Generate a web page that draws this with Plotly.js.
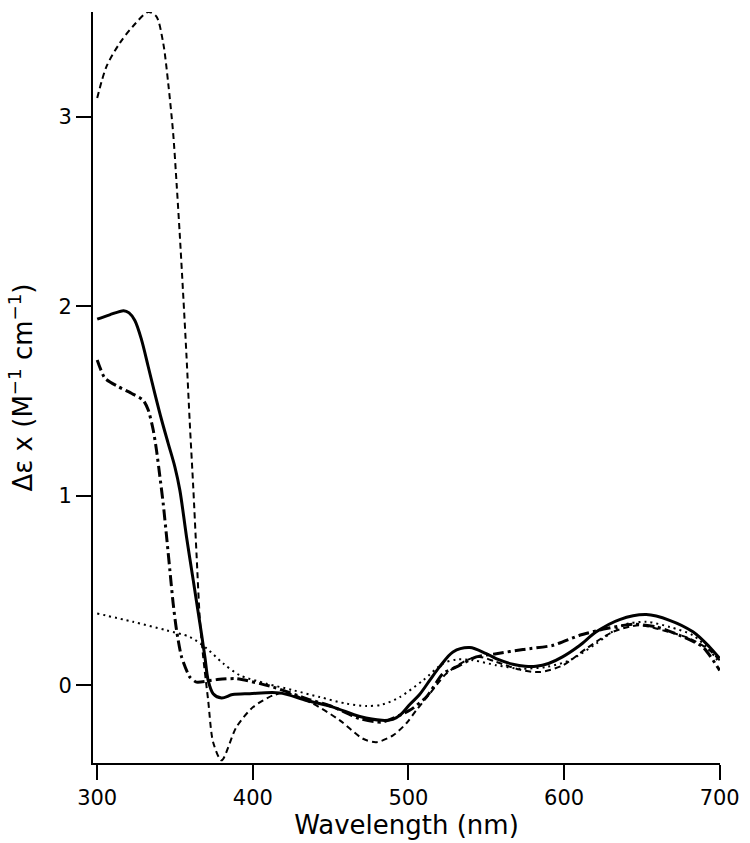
<!DOCTYPE html>
<html>
<head>
<meta charset="utf-8">
<script src="https://cdn.plot.ly/plotly-3.0.1.min.js"></script>
<style>
html,body{margin:0;padding:0;background:#fff;}
#chart{width:750px;height:843px;}
</style>
</head>
<body>
<div id="chart"></div>
<script>
// Solid thick line
const solidX = [300, 308, 317, 320.5, 324.2, 328.5, 332.8, 337, 341.4, 345.6, 349.9, 353.1, 357.4, 361.7, 366, 369.2, 371.3, 374.5, 379.9, 387, 398, 417, 434.5, 451.6, 468.7, 483, 490, 495, 501, 507, 514, 520, 528.6, 539.4, 550, 558, 567, 575, 582, 590, 599, 610, 620.7, 635.7, 652.8, 667.8, 682.8, 693.5, 700];
const solidY = [1.932, 1.955, 1.977, 1.965, 1.925, 1.823, 1.681, 1.541, 1.40, 1.277, 1.153, 1.03, 0.783, 0.555, 0.326, 0.15, 0.026, -0.044, -0.067, -0.049, -0.044, -0.04, -0.08, -0.115, -0.165, -0.185, -0.18, -0.155, -0.10, -0.05, 0.03, 0.097, 0.176, 0.199, 0.167, 0.135, 0.111, 0.10, 0.10, 0.115, 0.15, 0.21, 0.282, 0.347, 0.373, 0.343, 0.282, 0.202, 0.141];

// Thin dashed line
const dashX = [300, 306, 314.6, 323, 332.8, 338, 342.4, 345.6, 348.8, 351, 353, 355.2, 357.4, 359.5, 361.7, 363.8, 366, 368.1, 371.3, 374.5, 379.9, 389.5, 400.2, 413, 421.6, 438.7, 455.9, 470.8, 479.4, 490.1, 498.7, 505, 513.7, 524.4, 537.3, 545.8, 556.5, 571.5, 584.3, 599.3, 614.3, 631.4, 648.5, 663.5, 680.6, 693.5, 700];
const dashY = [3.099, 3.266, 3.39, 3.478, 3.553, 3.53, 3.39, 3.179, 2.914, 2.65, 2.386, 2.07, 1.734, 1.382, 1.048, 0.696, 0.343, 0.15, -0.079, -0.30, -0.396, -0.22, -0.115, -0.053, -0.04, -0.097, -0.185, -0.282, -0.3, -0.264, -0.2, -0.132, -0.044, 0.062, 0.132, 0.15, 0.123, 0.083, 0.07, 0.106, 0.194, 0.282, 0.317, 0.29, 0.247, 0.185, 0.132];

// Thick dash-dot line
const dashDotX = [300, 305, 313.5, 322, 329.5, 332.8, 336, 338.1, 340.3, 342.4, 344.6, 346.7, 348.8, 351, 354.2, 359.5, 363.8, 376.7, 389.5, 413, 434.5, 451.6, 468.7, 483, 500.8, 511.5, 522.2, 530.8, 543.6, 556.5, 573.6, 592.9, 610, 627.2, 644.3, 659.3, 674.2, 689.2, 700];
const dashDotY = [1.717, 1.62, 1.576, 1.541, 1.505, 1.453, 1.347, 1.241, 1.10, 0.96, 0.783, 0.607, 0.432, 0.29, 0.15, 0.044, 0.017, 0.03, 0.035, -0.009, -0.07, -0.114, -0.176, -0.194, -0.132, -0.062, 0.062, 0.097, 0.15, 0.167, 0.189, 0.211, 0.264, 0.3, 0.322, 0.308, 0.264, 0.202, 0.079];

// Thin dotted line
const dotX = [300, 323, 344.6, 359.5, 370.3, 381, 391.6, 408.8, 425.9, 443, 460.2, 473, 483, 494.4, 509.4, 522.2, 530.8, 541.5, 556.5, 571.5, 588.6, 603.6, 620.7, 637.8, 652.8, 667.8, 682.8, 693.5, 700];
const dotY = [0.379, 0.335, 0.29, 0.255, 0.195, 0.115, 0.053, 0.009, -0.026, -0.062, -0.097, -0.109, -0.102, -0.062, 0.026, 0.115, 0.136, 0.132, 0.106, 0.088, 0.097, 0.132, 0.22, 0.317, 0.335, 0.308, 0.264, 0.185, 0.115];

const xTicks = [300, 400, 500, 600, 700];
const yTicks = [0, 1, 2, 3];

const traces = [
  {x: dotX, y: dotY, mode: 'lines', line: {color: '#000', width: 2, dash: '2px,4px', shape: 'spline', smoothing: 0.8}},
  {x: dashX, y: dashY, mode: 'lines', line: {color: '#000', width: 2, dash: '6px,4px', shape: 'spline', smoothing: 0.8}},
  {x: dashDotX, y: dashDotY, mode: 'lines', line: {color: '#000', width: 3, dash: '11px,4px,3px,4px', shape: 'spline', smoothing: 0.6}},
  {x: solidX, y: solidY, mode: 'lines', line: {color: '#000', width: 3, shape: 'spline', smoothing: 0.9}}
];

const font = 'DejaVu Sans, sans-serif';
const layout = {
  width: 750, height: 843,
  margin: {l: 93, r: 30, t: 12, b: 80},
  paper_bgcolor: '#fff', plot_bgcolor: '#fff',
  showlegend: false,
  font: {family: font, color: '#000', size: 21},
  xaxis: {
    range: [297.3, 700.2],
    tickvals: xTicks,
    ticktext: xTicks.map(String),
    ticks: 'outside', ticklen: 15, tickwidth: 2, tickcolor: '#000',
    showline: true, linewidth: 2, linecolor: '#000',
    showgrid: false, zeroline: false,
    tickfont: {family: font, size: 21, color: '#000'},
    title: {text: 'Wavelength (nm)', font: {family: font, size: 26, color: '#000'}, standoff: 2}
  },
  yaxis: {
    range: [-0.41, 3.553],
    tickvals: yTicks,
    ticktext: yTicks.map(String),
    ticks: 'outside', ticklen: 15, tickwidth: 2, tickcolor: '#000',
    showline: true, linewidth: 2, linecolor: '#000',
    showgrid: false, zeroline: false,
    tickfont: {family: font, size: 21, color: '#000'},
    title: {text: 'Δε x (M<sup>−1</sup> cm<sup>−1</sup>)', font: {family: font, size: 26, color: '#000'}, standoff: 18}
  }
};

Plotly.newPlot('chart', traces, layout, {displayModeBar: false, staticPlot: true});
</script>
</body>
</html>
